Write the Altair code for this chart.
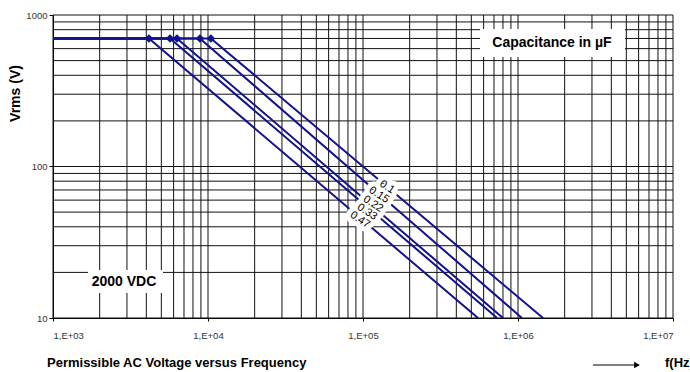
import altair as alt
import pandas as pd

# ---- data ----
caps = ["0.1", "0.15", "0.22", "0.33", "0.47"]
f_start = 1000
v_flat = 700
knee_f = [10440, 8870, 6310, 5690, 4160]          # diamond markers (Hz) at 700 V
end_f = [1450000, 1060000, 800000, 733000, 552000]  # where lines reach 10 V
v_end = 10
label_f = [142900, 126800, 116100, 106200, 95700]
label_v = [73.2, 64.9, 56.5, 50.1, 44.4]

grid_x = [1000, 2000, 3000, 4000, 5000, 6000, 7000, 8000, 9000,
          10000, 20000, 30000, 40000, 50000, 60000, 70000, 80000, 90000,
          100000, 200000, 300000, 400000, 500000, 600000, 700000, 800000, 900000,
          1000000, 2000000, 3000000, 4000000, 5000000, 6000000, 7000000, 8000000, 9000000,
          10000000]
grid_y = [10, 20, 30, 40, 50, 60, 70, 80, 90,
          100, 200, 300, 400, 500, 600, 700, 800, 900, 1000]
x_ticks = [1000, 10000, 100000, 1000000, 10000000]
y_ticks = [10, 100, 1000]

FONT = "Liberation Sans"
LINE = "#12128c"

rows = []
for c, k, e in zip(caps, knee_f, end_f):
    rows.append({"cap": c, "seq": 0, "f": f_start, "v": v_flat})
    rows.append({"cap": c, "seq": 1, "f": k, "v": v_flat})
    rows.append({"cap": c, "seq": 2, "f": e, "v": v_end})
lines_df = pd.DataFrame(rows)
knee_df = pd.DataFrame({"cap": caps, "f": knee_f, "v": [v_flat] * len(caps)})
labels_df = pd.DataFrame({"cap": caps, "f": label_f, "v": label_v})

xs = alt.Scale(type="log", domain=[1000, 10000000], nice=False)
ys = alt.Scale(type="log", domain=[10, 1000], nice=False)

x_axis = alt.Axis(values=x_ticks, grid=False, tickSize=3, labelFontSize=9.5,
                  labelColor="#333", labelFont=FONT, domainColor="black",
                  tickColor="black", labelPadding=9, title=None,
                  labelExpr="'1,E+0' + format(log(datum.value)/LN10, '.0f')")
y_axis = alt.Axis(values=y_ticks, grid=False, tickSize=4, labelFontSize=9.5,
                  labelColor="#333", labelFont=FONT, domainColor="black",
                  tickColor="black", labelPadding=2, format="d",
                  title="Vrms (V)", titleFont=FONT, titleFontSize=14,
                  titleFontWeight="bold", titleColor="black",
                  titleX=-38, titleY=78, titleAngle=-90, titleAlign="center",
                  titleBaseline="middle")

X = alt.X("f:Q", scale=xs, axis=x_axis)
Y = alt.Y("v:Q", scale=ys, axis=y_axis)

vgrid = alt.Chart(pd.DataFrame({"f": grid_x})).mark_rule(color="#111", strokeWidth=1).encode(x=X)
hgrid = alt.Chart(pd.DataFrame({"v": grid_y})).mark_rule(color="#111", strokeWidth=1).encode(y=Y)

lines = alt.Chart(lines_df).mark_line(color=LINE, strokeWidth=2).encode(
    x=X, y=Y, detail="cap:N", order="seq:Q")

halo = alt.Chart(labels_df).mark_text(
    angle=33, font=FONT, fontSize=11, fill="white", stroke="white",
    strokeWidth=10, strokeJoin="round").encode(x=X, y=Y, text="cap:N")
label_text = alt.Chart(labels_df).mark_text(
    angle=33, font=FONT, fontSize=11, color="black").encode(x=X, y=Y, text="cap:N")

markers = alt.Chart(knee_df).mark_point(shape="diamond", filled=True, size=75,
                                        color=LINE, opacity=1).encode(x=X, y=Y)

one = pd.DataFrame({"a": [0]})
cap_box = alt.Chart(one).mark_rect(fill="white").encode(
    x=alt.value(427), x2=alt.value(572), y=alt.value(14), y2=alt.value(42))
cap_text = alt.Chart(one).mark_text(
    text="Capacitance in µF", font=FONT, fontSize=14, fontWeight="bold",
    color="black", align="center", baseline="middle").encode(
    x=alt.value(499), y=alt.value(28))
vdc_box = alt.Chart(one).mark_rect(fill="white").encode(
    x=alt.value(35), x2=alt.value(110), y=alt.value(255), y2=alt.value(278))
vdc_text = alt.Chart(one).mark_text(
    text="2000 VDC", font=FONT, fontSize=14, fontWeight="bold",
    color="black", align="center", baseline="middle").encode(
    x=alt.value(71), y=alt.value(267))
bottom_text = alt.Chart(one).mark_text(
    text="Permissible AC Voltage versus Frequency", font=FONT, fontSize=13,
    fontWeight="bold", color="black", align="left", baseline="middle").encode(
    x=alt.value(-6), y=alt.value(348))
arrow_line = alt.Chart(one).mark_rule(color="black", strokeWidth=1).encode(
    x=alt.value(540), x2=alt.value(584), y=alt.value(350))
arrow_head = alt.Chart(one).mark_point(shape="triangle-right", filled=True,
                                       size=45, color="black", opacity=1).encode(
    x=alt.value(584), y=alt.value(350))
fhz_text = alt.Chart(one).mark_text(
    text="f(Hz)", font=FONT, fontSize=13, fontWeight="bold", color="black",
    align="left", baseline="middle").encode(x=alt.value(612), y=alt.value(348))

chart = alt.layer(
    vgrid, hgrid, cap_box, cap_text, vdc_box, vdc_text, lines, halo, label_text,
    markers, bottom_text, arrow_line, arrow_head, fhz_text
).properties(
    width=620, height=303,
    autosize=alt.AutoSizeParams(type="none"),
    padding={"left": 53, "top": 15, "right": 17, "bottom": 54},
    background="white",
).configure_view(stroke=None)

chart.save("out.html", embed_options={"renderer": "svg", "actions": False})
